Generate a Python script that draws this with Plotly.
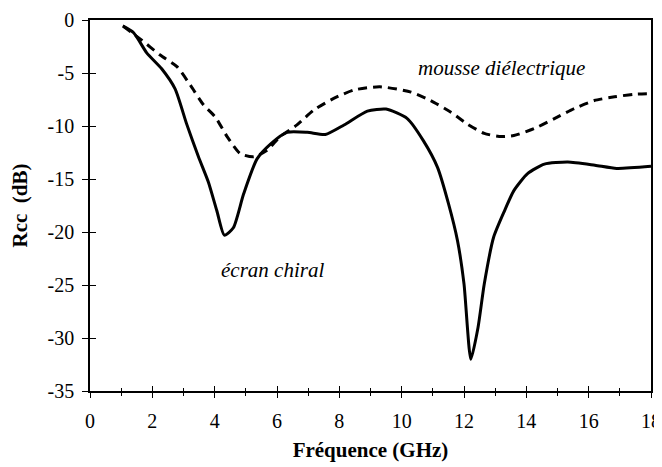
import plotly.graph_objects as go

# écran chiral (solid)
chiral_x = [1.05, 1.4, 1.82, 2.3, 2.73, 3.1, 3.48, 3.8, 4.07, 4.31, 4.6, 4.93, 5.36, 5.79, 6.32, 6.97,
            7.55, 8.15, 8.9, 9.5, 10.18, 10.7, 11.15, 11.5, 11.79, 12.0, 12.22, 12.45, 12.65, 12.95,
            13.3, 13.6, 14.04, 14.58, 15.33, 16.2, 16.9, 18.0]
chiral_y = [-0.55, -1.2, -3.1, -4.6, -6.5, -9.8, -12.9, -15.3, -18.0, -20.3, -19.6, -16.4, -13.1, -11.7,
            -10.6, -10.6, -10.8, -9.9, -8.6, -8.4, -9.3, -11.4, -13.9, -17.3, -20.8, -24.9, -32.0, -29.0,
            -24.9, -20.5, -18.0, -16.1, -14.5, -13.6, -13.4, -13.7, -14.0, -13.8]

# mousse diélectrique (dashed)
mousse_x = [1.07, 1.66, 2.25, 2.79, 3.22, 3.64, 4.02, 4.4, 4.82, 5.25, 5.68, 6.1, 6.64, 7.18, 7.82,
            8.47, 9.3, 10.3, 10.93, 11.58, 12.1, 12.65, 13.2, 13.6, 14.25, 14.9, 15.54, 16.18, 16.83,
            17.47, 18.0]
mousse_y = [-0.6, -1.9, -3.3, -4.4, -6.15, -8.0, -9.15, -11.0, -12.6, -12.9, -12.3, -11.0, -9.9, -8.5,
            -7.4, -6.6, -6.3, -6.8, -7.6, -8.7, -9.8, -10.7, -11.0, -10.9, -10.25, -9.3, -8.35, -7.6,
            -7.25, -7.0, -6.95]

x_ticks = [0, 2, 4, 6, 8, 10, 12, 14, 16, 18]
y_ticks = [0, -5, -10, -15, -20, -25, -30, -35]

FONT = "Liberation Serif"

fig = go.Figure()
fig.add_trace(go.Scatter(x=chiral_x, y=chiral_y, mode="lines",
                         line=dict(color="black", width=3, shape="spline", smoothing=0.6),
                         showlegend=False, hoverinfo="skip"))
fig.add_trace(go.Scatter(x=mousse_x, y=mousse_y, mode="lines",
                         line=dict(color="black", width=3, dash="9px,6px", shape="spline", smoothing=0.6),
                         showlegend=False, hoverinfo="skip"))

fig.add_annotation(x=13.2, y=-4.5, text="<i>mousse diélectrique</i>", showarrow=False,
                   font=dict(family=FONT, size=21, color="black"))
fig.add_annotation(x=5.85, y=-23.6, text="<i>écran chiral</i>", showarrow=False,
                   font=dict(family=FONT, size=21, color="black"))

fig.update_layout(
    width=654, height=459,
    margin=dict(l=82, r=11, t=12, b=76, autoexpand=False),
    paper_bgcolor="white", plot_bgcolor="white",
    xaxis=dict(range=[0, 18], tickvals=x_ticks, ticktext=[str(v) for v in x_ticks], automargin=False,
               showgrid=False, zeroline=False, showline=True, linecolor="black", linewidth=1.5,
               mirror=True, ticks="outside", ticklen=5, tickcolor="black", tickwidth=1,
               ticklabelstandoff=6,
               minor=dict(dtick=1, ticks="outside", ticklen=3, tickcolor="black"),
               tickfont=dict(family=FONT, size=20, color="black"),
               title=dict(text="<b>Fréquence (GHz)</b>", font=dict(family=FONT, size=21, color="black"),
                          standoff=12)),
    yaxis=dict(range=[-35, 0], tickvals=y_ticks, ticktext=[str(v) for v in y_ticks], automargin=False,
               showgrid=False, zeroline=False, showline=True, linecolor="black", linewidth=1.5,
               mirror=True, ticks="outside", ticklen=6, tickcolor="black", tickwidth=1,
               ticklabelstandoff=4,
               tickfont=dict(family=FONT, size=20, color="black"),
               title=dict(text="<b>Rcc\u00a0\u00a0(dB)</b>", font=dict(family=FONT, size=21, color="black"),
                          standoff=14)),
    xaxis2=dict(range=[0, 18], overlaying="x", side="bottom", tickvals=x_ticks, showticklabels=False,
                showgrid=False, zeroline=False, ticks="inside", ticklen=5, tickcolor="black",
                minor=dict(dtick=1, ticks="inside", ticklen=3, tickcolor="black")),
    yaxis2=dict(range=[-35, 0], overlaying="y", side="left", tickvals=y_ticks, showticklabels=False,
                showgrid=False, zeroline=False, ticks="inside", ticklen=6, tickcolor="black"),
)
# invisible trace to activate the overlay axes (inside half of crossing ticks)
fig.add_trace(go.Scatter(x=[0, 18], y=[-35, 0], xaxis="x2", yaxis="y2", mode="markers",
                         marker=dict(opacity=0), showlegend=False, hoverinfo="skip"))

fig.write_html("out.html")
